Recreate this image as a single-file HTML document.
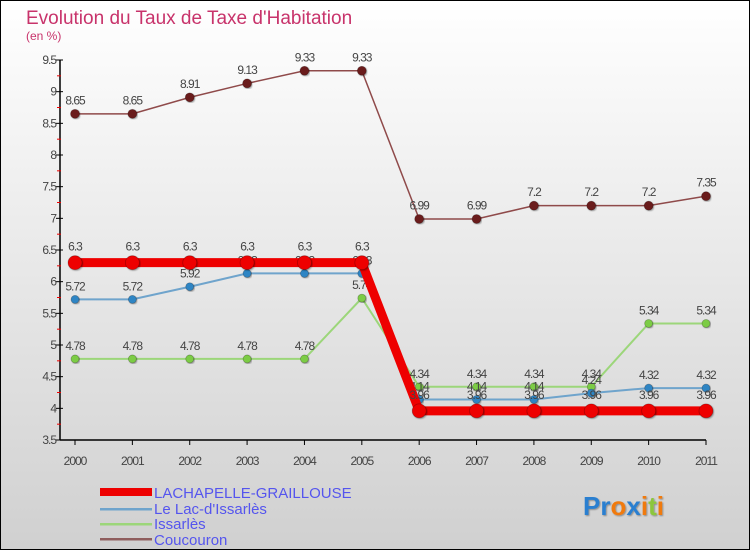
<!DOCTYPE html>
<html><head><meta charset="utf-8"><style>
html,body{margin:0;padding:0}
body{width:750px;height:550px;overflow:hidden;font-family:"Liberation Sans",sans-serif}
#c{position:absolute;left:0;top:0;width:748px;height:548px;border:1px solid #000;background:linear-gradient(#fff,#d0d0d0)}
</style></head><body>
<div id="c">
<svg id="s" width="750" height="550" style="position:absolute;left:-1px;top:-1px">
<defs><filter id="sh"><feDropShadow dx="1" dy="1" stdDeviation="0.8" flood-opacity="0.35"/></filter></defs>
<text x="26" y="24" font-size="19" fill="#c8336b">Evolution du Taux de Taxe d'Habitation</text>
<text x="26" y="40" font-size="12" fill="#c8336b">(en %)</text>
<g id="axes"></g><g id="series"></g>
<g>
<rect x="100" y="488" width="52" height="8" fill="#ee0000"/>
<text x="154" y="498" font-size="15" fill="#5555ee">LACHAPELLE-GRAILLOUSE</text>
<rect x="100" y="508" width="52" height="2.5" fill="#6fa4cc"/>
<text x="154" y="514" font-size="15" fill="#5555ee">Le Lac-d'Issarlès</text>
<rect x="100" y="523" width="52" height="2.5" fill="#9cd67a"/>
<text x="154" y="529" font-size="15" fill="#5555ee">Issarlès</text>
<rect x="100" y="538" width="52" height="2.5" fill="#8f5e5e"/>
<text x="154" y="545" font-size="15" fill="#5555ee">Coucouron</text>
</g>
<g font-size="26" font-weight="bold" filter="url(#sh)">
<text x="583" y="515"><tspan fill="#2a7fd0">Pr</tspan><tspan fill="#f07a10">o</tspan><tspan fill="#2a7fd0">x</tspan><tspan fill="#f07a10">i</tspan><tspan fill="#8cc63e">t</tspan><tspan fill="#f07a10">i</tspan></text>
</g>
</svg></div>
<script>
const years=[2000,2001,2002,2003,2004,2005,2006,2007,2008,2009,2010,2011];
const yTicks=[3.5,4,4.5,5,5.5,6,6.5,7,7.5,8,8.5,9,9.5];
const lachapelle=[6.3,6.3,6.3,6.3,6.3,6.3,3.96,3.96,3.96,3.96,3.96,3.96];
const lac=[5.72,5.72,5.92,6.13,6.13,6.13,4.14,4.14,4.14,4.24,4.32,4.32];
const issarles=[4.78,4.78,4.78,4.78,4.78,5.74,4.34,4.34,4.34,4.34,5.34,5.34];
const coucouron=[8.65,8.65,8.91,9.13,9.33,9.33,6.99,6.99,7.2,7.2,7.2,7.35];
const NS='http://www.w3.org/2000/svg';
const X=i=>75+i*(706-75)/11;
const Y=v=>440-(v-3.5)*(380/6);
function mk(t,a,p){const e=document.createElementNS(NS,t);for(const k in a)e.setAttribute(k,a[k]);p.appendChild(e);return e;}
const ax=document.getElementById('axes');
let e=mk('line',{x1:60,y1:60,x2:60,y2:440,stroke:'#000','stroke-width':1.5},ax);

e=mk('line',{x1:60,y1:440,x2:706,y2:440,stroke:'#000','stroke-width':1.5},ax);

yTicks.forEach((v,i)=>{
 mk('line',{x1:56,y1:Y(v),x2:63,y2:Y(v),stroke:'#000'},ax);
 if(i<yTicks.length-1)mk('line',{x1:57,y1:Y(v+0.25),x2:61,y2:Y(v+0.25),stroke:'#e00'},ax);
 const t=mk('text',{x:56,y:Y(v)+4,'font-size':12,'text-anchor':'end',fill:'#444','letter-spacing':'-1'},ax);t.textContent=String(v);
 
 
});
years.forEach((y,i)=>{
 mk('line',{x1:X(i),y1:440,x2:X(i),y2:445,stroke:'#000'},ax);
 const t=mk('text',{x:X(i),y:465,'font-size':12,'text-anchor':'middle',fill:'#444','letter-spacing':'-1'},ax);t.textContent=String(y);
 
 
});
const sg=document.getElementById('series');
function series(name,data,color,lineColor,w,r,dot){
 const g=mk('g',{},sg);
 
 
 mk('polyline',{points:data.map((v,i)=>X(i)+','+Y(v)).join(' '),fill:'none',stroke:lineColor,'stroke-width':w},g);
 data.forEach((v,i)=>{
  const c=mk('circle',{cx:X(i),cy:Y(v),r:r,fill:dot,stroke:'rgba(0,0,0,0.25)','stroke-width':0.8,filter:'url(#sh)'},g);
  
  
  const t=mk('text',{x:X(i),y:Y(v)-(r+5),'font-size':12,'text-anchor':'middle',fill:'#444','letter-spacing':'-1'},g);
  t.textContent=String(v).replace(/^(\d)\.(\d\d)$/,'$1$2').replace(/^(\d)(\d\d)$/,(m,a,b)=>a+'.'+b);
  
  
 });
}
series('coucouron',coucouron,'#6b1a1a','#8f4a4a',1.5,4.5,'#6b1a1a');
series('issarles',issarles,'#7ccc44','#9cd67a',2,4,'#7ccc44');
series('lac',lac,'#2f85c4','#6fa4cc',2,4,'#2f85c4');
series('lachapelle',lachapelle,'#ee0000','#ee0000',9,7,'#ee0000');
</script>
</body></html>
